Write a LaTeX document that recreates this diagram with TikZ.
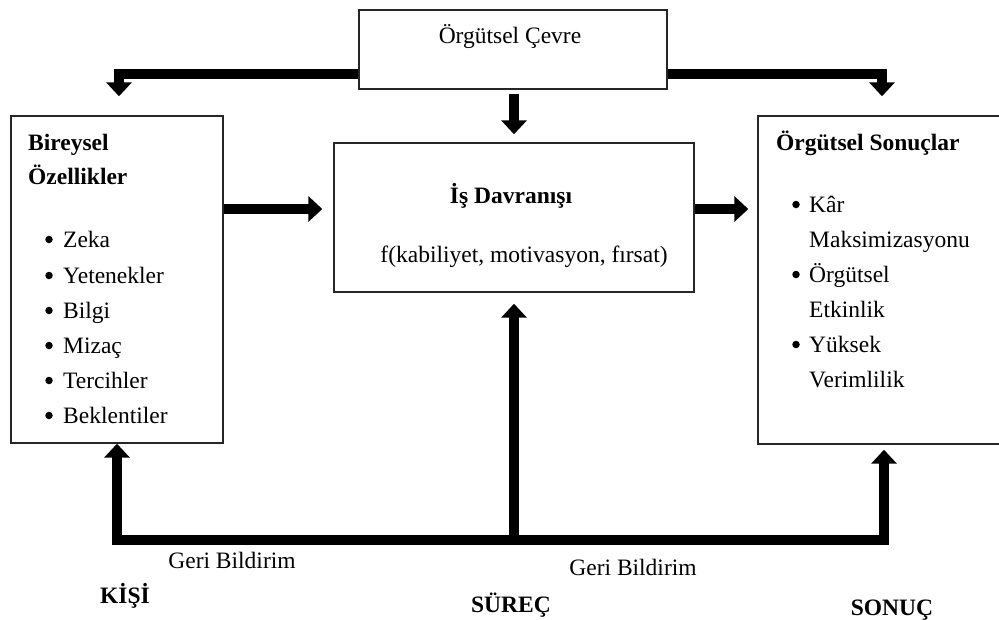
\documentclass[tikz,border=0pt]{standalone}
\usepackage{fontspec}
\setmainfont{Liberation Serif}
\usetikzlibrary{arrows.meta}

\tikzset{
  box/.style={draw=black!85, line width=1.4pt, fill=none, inner sep=0pt},
  txt/.style={inner sep=0pt, font=\fontsize{23.5}{35}\selectfont},
  btxt/.style={txt, font=\fontsize{23.5}{35}\selectfont\bfseries},
  dot/.style={circle, fill=black, inner sep=0pt, minimum size=7.5pt},
  fat/.style={line width=10pt, line join=miter, draw=black},
  fathead/.style={fat, -{Triangle[width=25pt,length=14pt]}},
  headtip/.tip={Triangle[width=25pt,length=14pt]}
}

\begin{document}
\begin{tikzpicture}[x=1pt,y=-1pt]
\useasboundingbox (0,0) rectangle (999,619);

% boxes
\node[box, minimum width=308pt, minimum height=79pt]  (cevre)    at (513,49.5)  {};
\node[box, minimum width=212pt, minimum height=327pt] (bireysel) at (117,279.5) {};
\node[box, minimum width=360pt, minimum height=149pt] (davranis) at (514,217.5) {};
\node[box, minimum width=245pt, minimum height=328pt] (sonuc)    at (880.5,280) {};

% box texts
\node[txt, anchor=base] (cevreT) at (510,43) {Örgütsel Çevre};

\node[btxt, anchor=base west] (birT1) at (28,150) {Bireysel};
\node[btxt, anchor=base west] (birT2) at (28,184) {Özellikler};
\foreach \y/\t [count=\i] in {247/Zeka, 283/Yetenekler, 318/Bilgi, 353/Mizaç, 388/Tercihler, 423/Beklentiler}{
  \node[dot] (lb\i) at (49,\y-7.5) {};
  \node[txt, anchor=base west] (lt\i) at (63,\y) {\t};
}

\node[btxt, anchor=base] (davT1) at (511,203) {İş Davranışı};
\node[txt, anchor=base] (davT2) at (524,262) {f(kabiliyet, motivasyon, fırsat)};

\node[btxt, anchor=base west] (sonT) at (776,150) {Örgütsel Sonuçlar};
\foreach \y in {212, 282, 352}{
  \node[dot] (rb\y) at (796,\y-7.5) {};
}
\foreach \y/\t in {212/Kâr, 247/Maksimizasyonu, 282/Örgütsel, 317/Etkinlik, 352/Yüksek, 387/Verimlilik}{
  \node[txt, anchor=base west] (rt\y) at (809,\y) {\t};
}

% labels below
\node[txt, anchor=base] (geri1) at (232,568) {Geri Bildirim};
\node[txt, anchor=base] (geri2) at (633,575) {Geri Bildirim};
\node[btxt, anchor=base] (kisi)  at (125,603) {KİŞİ};
\node[btxt, anchor=base] (surec) at (511,612) {SÜREÇ};
\node[btxt, anchor=base] (sonuc2) at (892,615) {SONUÇ};

% environment arrows
\draw[fathead] ([yshift=16pt]cevre.south west) -| ([xshift=2pt,yshift=19pt]bireysel.north);
\draw[fathead] ([yshift=16pt]cevre.south east) -| ([xshift=1.5pt,yshift=19pt]sonuc.north);
\draw[fathead] ([xshift=1pt,yshift=-4pt]cevre.south) -- ([yshift=8pt]davranis.north);

% main flow
\draw[fathead] ([yshift=8.5pt]davranis.west -| bireysel.east) -- ([xshift=-11pt,yshift=8.5pt]davranis.west);
\draw[fathead] ([yshift=8.5pt]davranis.east) -- ([xshift=-9pt,yshift=8.5pt]davranis.east -| sonuc.west);

% feedback loop
\coordinate (fbM) at (514,540);
\draw[fat, headtip-headtip] (bireysel.south) -- (bireysel.south |- fbM) -- ([xshift=3.5pt]sonuc.south |- fbM) -- ([xshift=3.5pt,yshift=-5pt]sonuc.south);
\draw[fathead] ([yshift=5pt]fbM) -- ([yshift=-11pt]davranis.south);
\end{tikzpicture}
\end{document}
